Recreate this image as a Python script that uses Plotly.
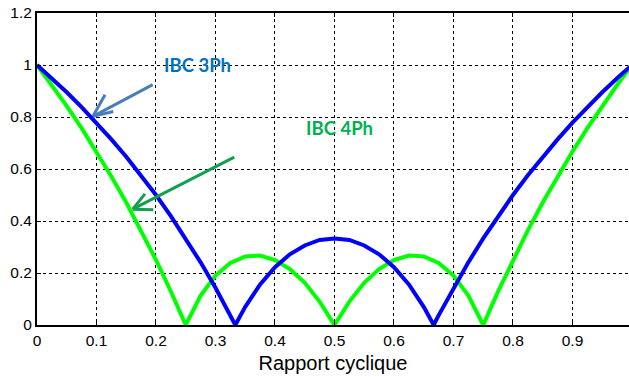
import plotly.graph_objects as go

# Duty cycle values (Rapport cyclique)
d_3ph = [0, 0.025, 0.05, 0.075, 0.1, 0.125, 0.15, 0.175, 0.2, 0.225, 0.25, 0.275, 0.3, 0.325,
         0.3333, 0.35, 0.375, 0.4, 0.425, 0.45, 0.475, 0.5, 0.525, 0.55, 0.575, 0.6, 0.625, 0.65,
         0.6667, 0.675, 0.7, 0.725, 0.75, 0.775, 0.8, 0.825, 0.85, 0.875, 0.9, 0.925, 0.95, 0.975, 1.0]
ripple_3ph = [1.0, 0.949, 0.895, 0.838, 0.778, 0.714, 0.647, 0.576, 0.5, 0.419, 0.333, 0.241, 0.143, 0.037,
              0.0, 0.070, 0.156, 0.222, 0.272, 0.306, 0.327, 0.333, 0.327, 0.306, 0.272, 0.222, 0.156, 0.070,
              0.0, 0.037, 0.143, 0.241, 0.333, 0.419, 0.5, 0.576, 0.647, 0.714, 0.778, 0.838, 0.895, 0.949, 1.0]

d_4ph = [0, 0.025, 0.05, 0.075, 0.1, 0.125, 0.15, 0.175, 0.2, 0.225, 0.25, 0.275, 0.3, 0.325,
         0.35, 0.375, 0.4, 0.425, 0.45, 0.475, 0.5, 0.525, 0.55, 0.575, 0.6, 0.625, 0.65,
         0.675, 0.7, 0.725, 0.75, 0.775, 0.8, 0.825, 0.85, 0.875, 0.9, 0.925, 0.95, 0.975, 1.0]
ripple_4ph = [1.0, 0.923, 0.842, 0.757, 0.667, 0.571, 0.471, 0.364, 0.25, 0.129, 0.0, 0.113, 0.190, 0.239,
              0.264, 0.267, 0.25, 0.215, 0.162, 0.090, 0.0, 0.090, 0.162, 0.215, 0.25, 0.267, 0.264,
              0.239, 0.190, 0.113, 0.0, 0.129, 0.25, 0.364, 0.471, 0.571, 0.667, 0.757, 0.842, 0.923, 1.0]

x_ticks = [0, 0.1, 0.2, 0.3, 0.4, 0.5, 0.6, 0.7, 0.8, 0.9]
x_tick_labels = ["0", "0.1", "0.2", "0.3", "0.4", "0.5", "0.6", "0.7", "0.8", "0.9"]
y_ticks = [0, 0.2, 0.4, 0.6, 0.8, 1.0, 1.2]
y_tick_labels = ["0", "0.2", "0.4", "0.6", "0.8", "1", "1.2"]

fig = go.Figure()
fig.add_trace(go.Scatter(x=d_4ph, y=ripple_4ph, mode="lines",
                         line=dict(color="#00FF00", width=4), name="IBC 4Ph"))
fig.add_trace(go.Scatter(x=d_3ph, y=ripple_3ph, mode="lines",
                         line=dict(color="#0000FF", width=4), name="IBC 3Ph"))

# Arrows (open V heads) drawn as line shapes
blue_arrow = "#4A7EBB"
green_arrow = "#12A050"
arrows = [
    (blue_arrow, (0.1945, 0.9245), (0.0941, 0.8025), [(0.1143, 0.8857), (0.1282, 0.8213)]),
    (green_arrow, (0.3316, 0.6457), (0.1608, 0.4455), [(0.1815, 0.5044), (0.1955, 0.4428)]),
]
for col, tail, tip, heads in arrows:
    fig.add_shape(type="line", x0=tail[0], y0=tail[1], x1=tip[0], y1=tip[1],
                  line=dict(color=col, width=3), xref="x", yref="y")
    for h in heads:
        fig.add_shape(type="line", x0=tip[0], y0=tip[1], x1=h[0], y1=h[1],
                      line=dict(color=col, width=3), xref="x", yref="y")

fig.add_annotation(x=0.270, y=1.0, xref="x", yref="y", text="<b>IBC 3Ph</b>", showarrow=False,
                   font=dict(family="Lato", size=18.5, color="#0070C0"))
fig.add_annotation(x=0.509, y=0.758, xref="x", yref="y", text="<b>IBC 4Ph</b>", showarrow=False,
                   font=dict(family="Lato", size=18.5, color="#00B050"))

axis_common = dict(
    showgrid=True, gridcolor="black", griddash="dot", gridwidth=1,
    showline=True, linecolor="black", linewidth=2,
    ticks="inside", ticklen=4, tickcolor="black",
    zeroline=False, automargin=False, ticklabeloverflow="allow",
    tickfont=dict(family="Liberation Sans", size=15.5, color="black"),
)

fig.update_xaxes(range=[0, 0.995], tickvals=x_ticks, ticktext=x_tick_labels, mirror="ticks",
                 title=dict(text="Rapport cyclique", font=dict(family="Liberation Sans", size=20, color="black"),
                            standoff=8),
                 **axis_common)
fig.update_yaxes(range=[0, 1.2], tickvals=y_ticks, ticktext=y_tick_labels, mirror=False,
                 **axis_common)

fig.update_layout(
    width=629, height=377,
    margin=dict(l=37, r=0, t=13, b=52, autoexpand=False),
    paper_bgcolor="white", plot_bgcolor="white",
    showlegend=False,
)

fig.write_html("out.html", config={"displayModeBar": False},
               post_script="document.body.style.margin='0px';document.body.style.overflow='hidden';")
